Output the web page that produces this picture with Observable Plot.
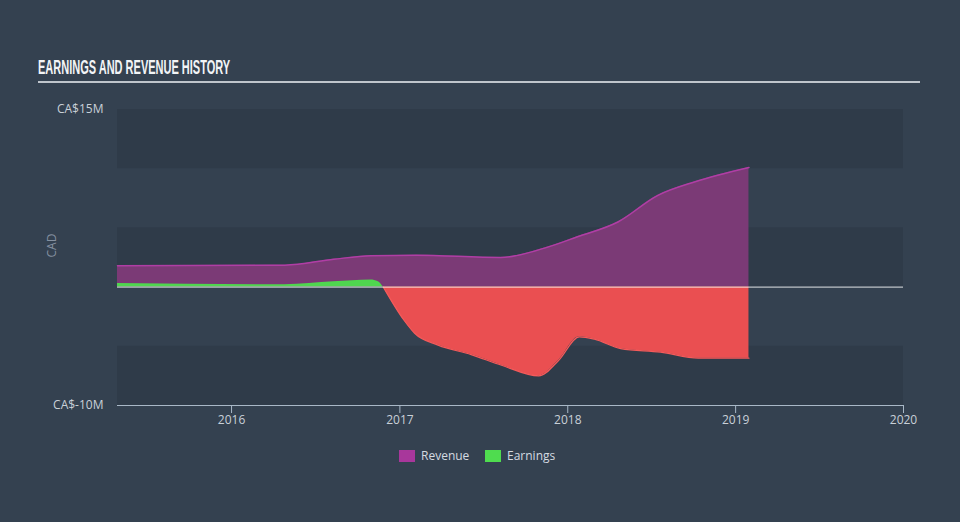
<!DOCTYPE html>
<html><head><meta charset="utf-8">
<script src="https://cdn.jsdelivr.net/npm/d3@7"></script>
<script src="https://cdn.jsdelivr.net/npm/@observablehq/plot@0.6"></script>
<style>
body{margin:0;width:960px;height:522px;background:#344150;overflow:hidden;position:relative;font-family:"Open Sans",sans-serif}
#title{position:absolute;left:38px;top:57px;font-family:"Liberation Sans Narrow",sans-serif;font-weight:bold;font-size:20px;line-height:20px;color:#f2f4f6;white-space:nowrap;transform-origin:0 0}
#rule{position:absolute;left:38px;top:81px;width:882px;height:2px;background:#bfc5cc}
#chart{position:absolute;left:0;top:90px}
.sw{position:absolute;top:450px;width:16px;height:12px}
.lt{position:absolute;top:448px;font-size:12px;line-height:16px;color:#d5dbe1}
</style></head>
<body>
<div id="title">EARNINGS AND REVENUE HISTORY</div>
<div id="rule"></div>
<div id="chart"></div>
<div class="sw" style="left:399px;background:#a8379b"></div>
<div class="lt" style="left:421px">Revenue</div>
<div class="sw" style="left:485px;background:#4fdc4f"></div>
<div class="lt" style="left:507px">Earnings</div>
<script>
const revDates = ["2015-04-28","2016-04-26","2016-08-10","2016-10-30","2017-02-05","2017-08-08","2017-11-20","2018-01-22","2018-04-20","2018-07-16","2018-10-05","2019-01-30"];
const revValues = [1.8,1.85,2.35,2.65,2.7,2.5,3.4,4.25,5.5,7.75,8.9,10.1];
const earnDates = ["2015-04-28","2016-04-26","2016-08-10","2016-10-30","2016-11-15","2016-11-26","2017-01-10","2017-02-02","2017-03-25","2017-06-05","2017-08-10","2017-10-30","2017-12-12","2018-01-26","2018-02-28","2018-04-26","2018-07-22","2018-10-12","2019-01-30"];
const earnValues = [0.3,0.2,0.45,0.6,0.45,0,-2.8,-3.9,-4.9,-5.7,-6.6,-7.5,-6.2,-4.2,-4.4,-5.2,-5.5,-6.0,-6.0];
const yearTicks = ["2016-01-01","2017-01-01","2018-01-01","2019-01-01","2020-01-01"];
const yTicks = [-10, 15];
const bandLo = [10, 0, -10];
const bandHi = [15, 5, -5];

// title fit
const t = document.getElementById("title");
t.style.transform = `scaleX(${192 / t.offsetWidth})`;

const revenue = revDates.map((d, i) => ({date: new Date(d), value: revValues[i]}));
const earnings = earnDates.map((d, i) => ({date: new Date(d), value: earnValues[i]}));
const zeroIdx = earnValues.indexOf(0);
const earnPos = earnings.slice(0, zeroIdx + 1);
const earnNeg = earnings.slice(zeroIdx);
const bands = bandLo.map((lo, i) => ({lo, hi: bandHi[i]}));
const x0 = new Date("2015-04-28"), x1 = new Date("2020-01-01");

const chart = Plot.plot({
  width: 960, height: 350,
  marginTop: 19, marginBottom: 35, marginLeft: 117, marginRight: 57,
  style: {background: "transparent", color: "#c9d0d8", fontFamily: "Open Sans", fontSize: "12px"},
  x: {type: "utc", domain: [x0, x1]},
  y: {domain: [-10, 15]},
  marks: [
    Plot.rect(bands, {x1: () => x0, x2: () => x1, y1: "lo", y2: "hi", fill: "#2f3b49"}),
    Plot.areaY(revenue, {x: "date", y: "value", curve: "monotone-x", fill: "#7b3a76"}),
    Plot.lineY(revenue, {x: "date", y: "value", curve: "monotone-x", stroke: "#b03ea5", strokeWidth: 1.5}),
    Plot.areaY(earnPos, {x: "date", y: "value", curve: "monotone-x", fill: "#4fd64f"}),
    Plot.areaY(earnNeg, {x: "date", y: "value", curve: "monotone-x", fill: "#ea4f51"}),
    Plot.lineY(earnNeg, {x: "date", y: "value", curve: "monotone-x", stroke: "#f45a5a", strokeWidth: 1.2}),
    Plot.ruleY([0], {stroke: "#ffffff", strokeOpacity: 0.85, strokeWidth: 1}),
    Plot.ruleY([-10], {stroke: "#a9b8c7", strokeWidth: 1.2}),
    Plot.axisX({ticks: yearTicks.map(d => new Date(d)), tickFormat: d3.utcFormat("%Y"), tickSize: 8, tickPadding: 2, stroke: "#a9b8c7", fill: "#c9d0d8", label: null}),
    Plot.axisY({ticks: yTicks, tickSize: 0, tickPadding: 14, tickFormat: d => `CA$${d}M`, fill: "#c9d0d8", label: null}),
    Plot.text(["CAD"], {frameAnchor: "left", dx: -65, rotate: -90, fill: "#8590a0", fontSize: 12})
  ]
});
document.getElementById("chart").appendChild(chart);
</script>
</body></html>
